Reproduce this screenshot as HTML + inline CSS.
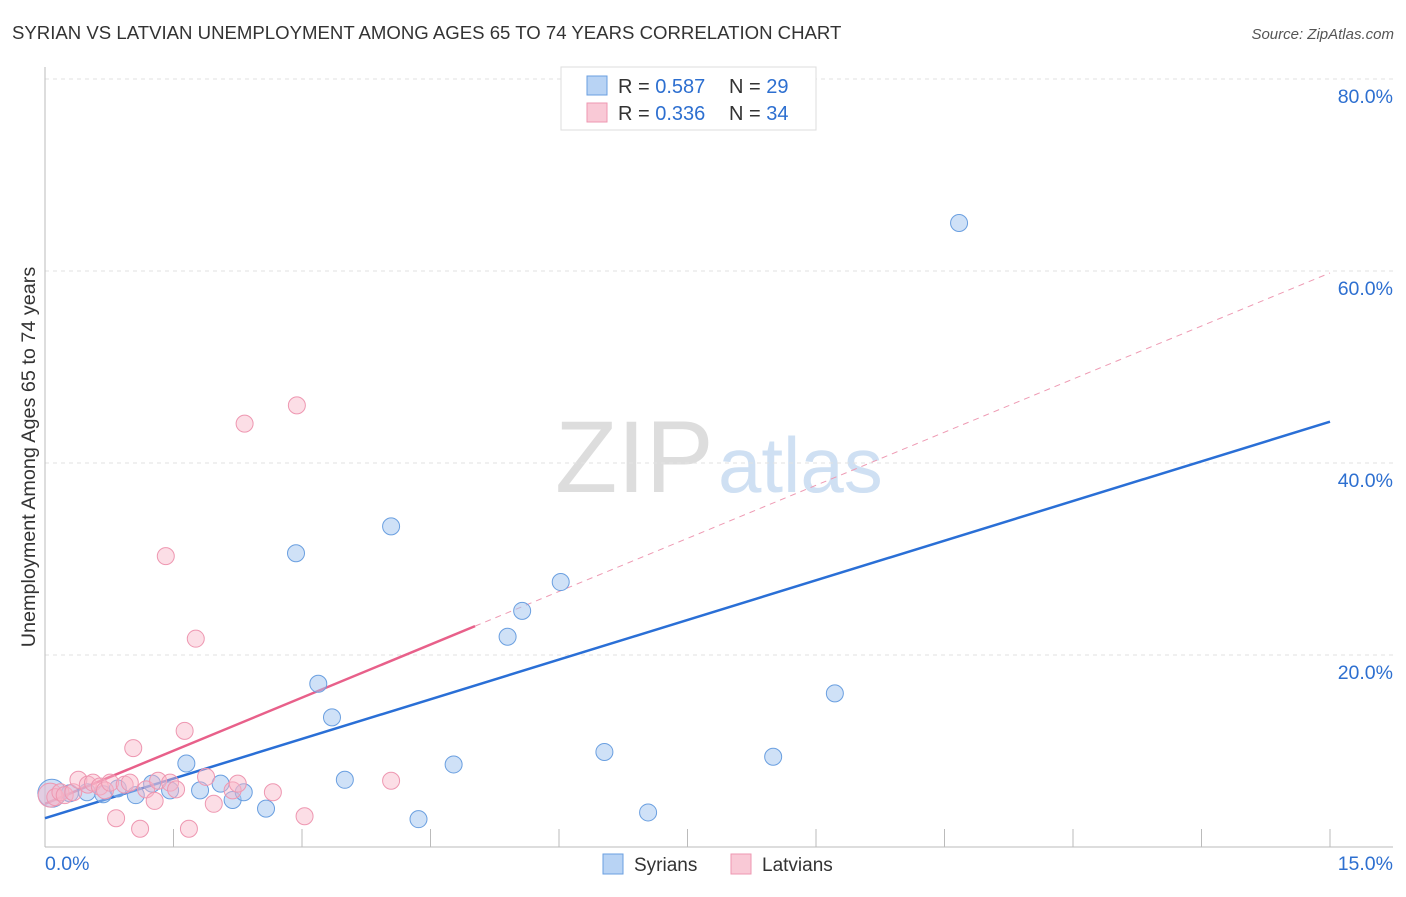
<!DOCTYPE html>
<html><head><meta charset="utf-8"><style>
body{margin:0;background:#fff;font-family:"Liberation Sans",sans-serif}
svg text{font-family:"Liberation Sans",sans-serif}
</style></head><body>
<svg id="c" width="1406" height="892" xmlns="http://www.w3.org/2000/svg">
<text x="12" y="39" font-size="18.6" fill="#333">SYRIAN VS LATVIAN UNEMPLOYMENT AMONG AGES 65 TO 74 YEARS CORRELATION CHART</text>
<text x="1394" y="39" font-size="15" fill="#555" font-style="italic" text-anchor="end">Source: ZipAtlas.com</text>
<text x="35" y="457" font-size="19.8" fill="#333" text-anchor="middle" transform="rotate(-90 35 457)">Unemployment Among Ages 65 to 74 years</text>
<text x="555" y="492" font-size="102" fill="#ddd" font-family="Liberation Serif">ZIP</text>
<text x="718" y="492" font-size="78" fill="#cfe0f3">atlas</text>
<g id="grid"></g><g id="ax"></g><g id="lines"></g><g id="pts"></g>
<g>
<rect x="561" y="67" width="255" height="63" fill="#fff" stroke="#ddd"/>
<rect x="587" y="76" width="20" height="19" fill="#b8d3f4" stroke="#6a9fe0"/>
<rect x="587" y="103" width="20" height="19" fill="#f9c9d6" stroke="#ee97b1"/>
<text x="618" y="93" font-size="20" fill="#333">R = <tspan fill="#2d6fd0">0.587</tspan></text>
<text x="729" y="93" font-size="20" fill="#333">N = <tspan fill="#2d6fd0">29</tspan></text>
<text x="618" y="120" font-size="20" fill="#333">R = <tspan fill="#2d6fd0">0.336</tspan></text>
<text x="729" y="120" font-size="20" fill="#333">N = <tspan fill="#2d6fd0">34</tspan></text>
</g>
<g>
<rect x="603" y="854" width="20" height="20" fill="#b8d3f4" stroke="#6a9fe0"/>
<text x="634" y="871" font-size="19" fill="#333">Syrians</text>
<rect x="731" y="854" width="20" height="20" fill="#f9c9d6" stroke="#ee97b1"/>
<text x="762" y="871" font-size="19" fill="#333">Latvians</text>
</g>
</svg>
<script>
const yTicks=[20,40,60,80];
const xTickLabels=["0.0%","15.0%"];
const syrX=[0.08,0.29,0.49,0.68,0.85,1.06,1.25,1.46,1.65,1.81,2.05,2.19,2.32,2.58,2.93,3.19,3.35,3.50,4.04,4.36,4.77,5.40,5.57,6.02,6.53,7.04,8.50,9.22,10.67];
const syrY=[5.6,5.6,5.7,5.5,6.1,5.4,6.6,5.9,8.7,5.9,6.6,4.9,5.7,4.0,30.6,17.0,13.5,7.0,33.4,2.9,8.6,21.9,24.6,27.6,9.9,3.6,9.4,16.0,65.0];
const latX=[0.06,0.12,0.18,0.23,0.33,0.39,0.50,0.56,0.64,0.70,0.76,0.83,0.93,0.99,1.03,1.11,1.18,1.28,1.32,1.41,1.46,1.53,1.63,1.68,1.76,1.88,1.97,2.19,2.25,2.33,2.66,2.94,3.03,4.04];
const latY=[5.4,5.2,5.7,5.4,5.7,7.0,6.5,6.7,6.3,5.9,6.7,3.0,6.5,6.7,10.3,1.9,6.0,4.8,6.9,30.3,6.7,6.0,12.1,1.9,21.7,7.3,4.5,5.9,6.6,44.1,5.7,46.0,3.2,6.9];
const syrFit=[3.0,44.3];
const latFit=[4.5,59.8];
const latSolidEnd=5.02;
const X=v=>45+v/15*1285, Y=v=>847-v*9.6;
const NS="http://www.w3.org/2000/svg";
function mk(p,t,a){const e=document.createElementNS(NS,t);for(const k in a)e.setAttribute(k,a[k]);document.getElementById(p).appendChild(e);return e;}
yTicks.forEach(t=>{
 const g=mk('grid','line',{x1:45,x2:1393,y1:Y(t),y2:Y(t),stroke:'#e2e2e2','stroke-dasharray':'4,4'});
 
 
 const l=mk('ax','text',{x:1393,y:Y(t)+24,'font-size':19.5,fill:'#2d6fd0','text-anchor':'end'});l.textContent=t.toFixed(1)+'%';
 
 
});
mk('ax','line',{x1:45,x2:45,y1:67,y2:847,stroke:'#bbb'});
mk('ax','line',{x1:45,x2:1393,y1:847,y2:847,stroke:'#bbb'});
for(let i=1;i<=10;i++){const t=mk('ax','line',{x1:X(i*1.5),x2:X(i*1.5),y1:829,y2:847,stroke:'#bbb'});
 
 }
const a=mk('ax','text',{x:45,y:870,'font-size':19.5,fill:'#2d6fd0'});a.textContent=xTickLabels[0];


const b=mk('ax','text',{x:1393,y:870,'font-size':19.5,fill:'#2d6fd0','text-anchor':'end'});b.textContent=xTickLabels[1];


const lf=v=>latFit[0]+(latFit[1]-latFit[0])*v/15;
let l1=mk('lines','line',{x1:X(latSolidEnd),y1:Y(lf(latSolidEnd)),x2:X(15),y2:Y(latFit[1]),stroke:'#ee9ab3','stroke-width':1,'stroke-dasharray':'6,5'});


let l2=mk('lines','line',{x1:X(0),y1:Y(latFit[0]),x2:X(latSolidEnd),y2:Y(lf(latSolidEnd)),stroke:'#e8608a','stroke-width':2.5});


let l3=mk('lines','line',{x1:X(0),y1:Y(syrFit[0]),x2:X(15),y2:Y(syrFit[1]),stroke:'#2a6fd6','stroke-width':2.5});


syrX.forEach((x,i)=>{const c=mk('pts','circle',{cx:X(x),cy:Y(syrY[i]),r:i==0?14:8.5,fill:'rgba(160,196,240,0.5)',stroke:'#6a9fe0','stroke-width':1});
 
 });
latX.forEach((x,i)=>{const c=mk('pts','circle',{cx:X(x),cy:Y(latY[i]),r:i==0?12:8.5,fill:'rgba(248,182,200,0.45)',stroke:'#ee97b1','stroke-width':1});
 
 });
</script>
</body></html>
